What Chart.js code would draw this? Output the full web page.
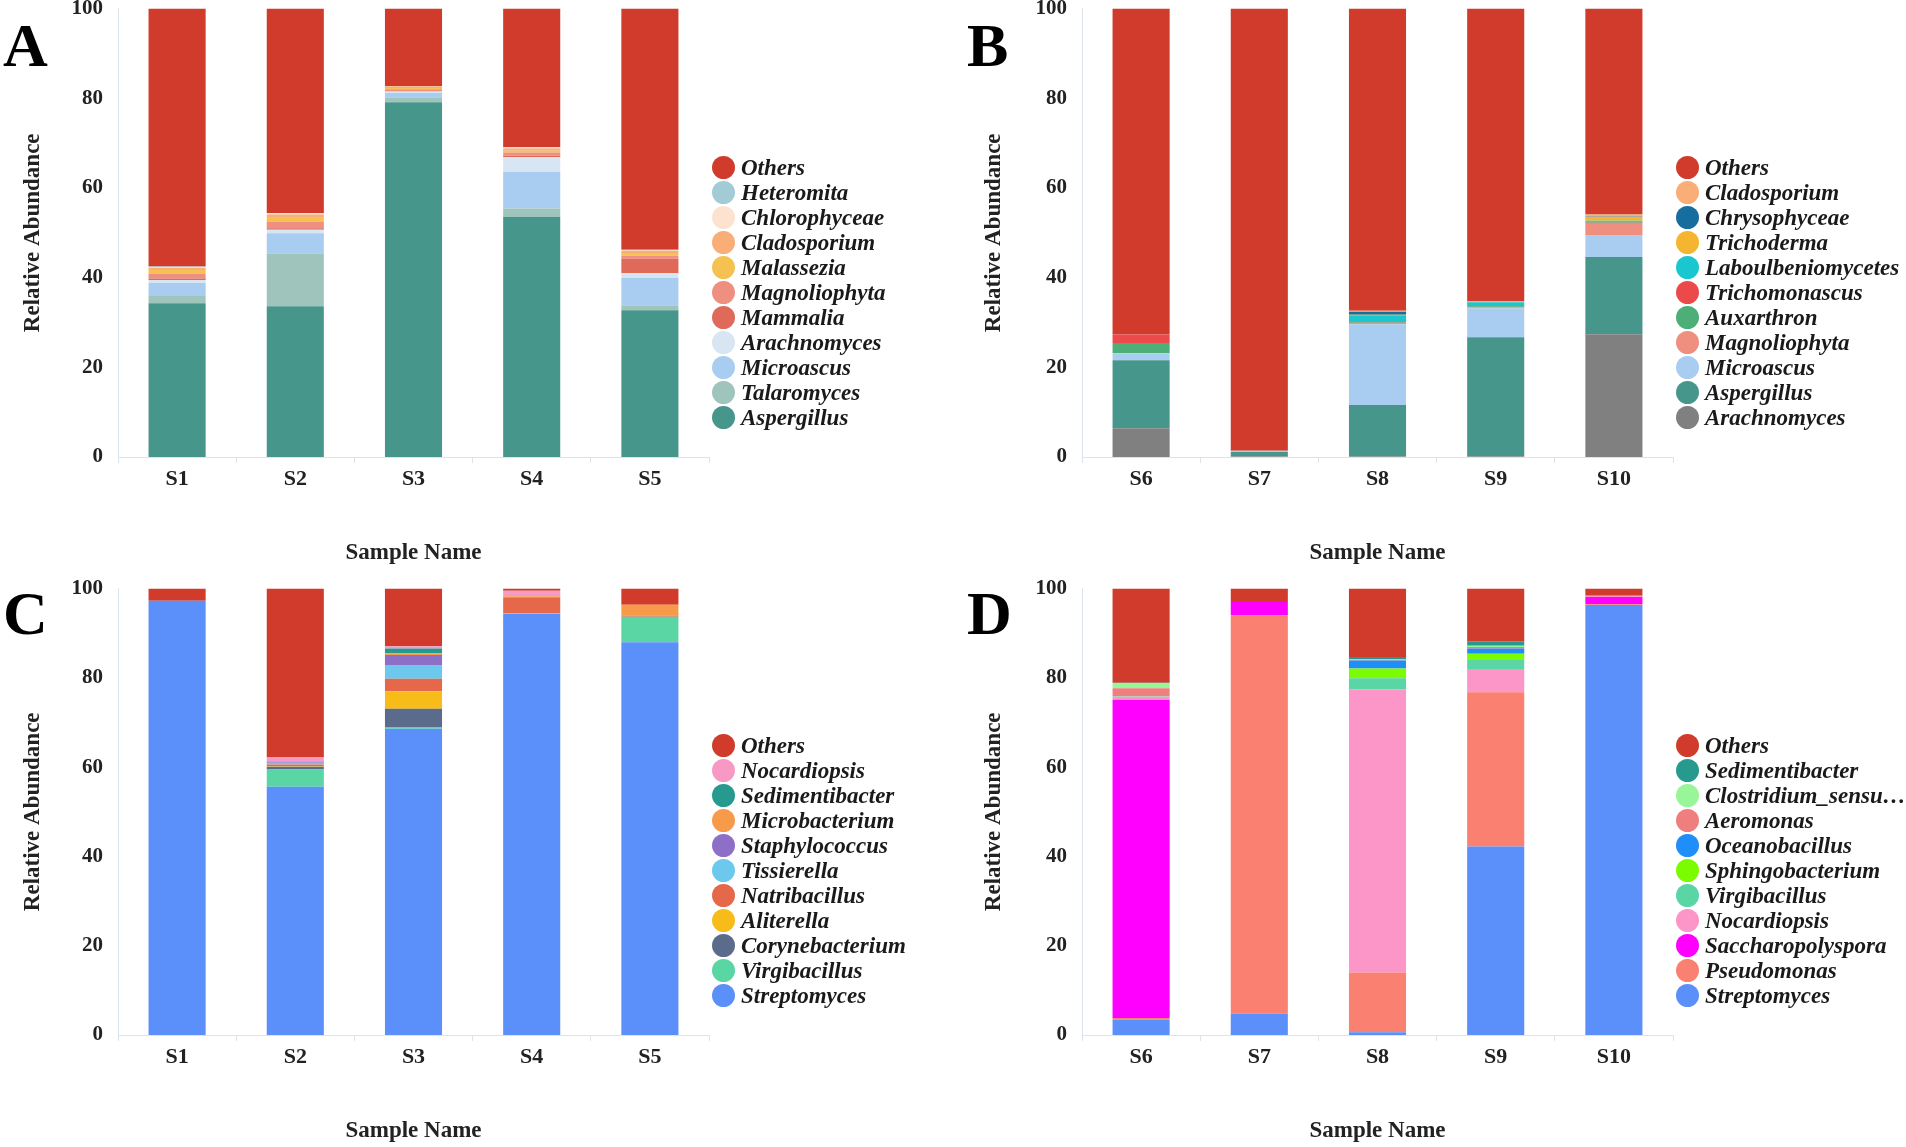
<!DOCTYPE html>
<html><head><meta charset="utf-8">
<script src="https://cdn.jsdelivr.net/npm/chart.js@4.4.1/dist/chart.umd.min.js"></script>
<style>
html,body{margin:0;padding:0;background:#fff;overflow:hidden;}
#stage{position:relative;width:1906px;height:1147px;overflow:hidden;}
canvas{position:absolute;}
.letter{position:absolute;font:bold 62px "Liberation Serif",serif;color:#000;line-height:1;}
.legend{position:absolute;}
.row{height:25px;display:flex;align-items:center;white-space:nowrap;}
.dot{width:23px;height:23px;border-radius:50%;margin-right:6px;flex:none;}
.row span{font:italic bold 23px "Liberation Serif",serif;color:#1a1a1a;}
</style></head>
<body>
<div id="stage">
  <canvas id="cA"></canvas><canvas id="cB"></canvas><canvas id="cC"></canvas><canvas id="cD"></canvas>
  <div class="letter" style="left:3px;top:14px">A</div>
  <div class="letter" style="left:967px;top:14px">B</div>
  <div class="letter" style="left:3px;top:582px">C</div>
  <div class="letter" style="left:967px;top:582px">D</div>
  <div class="legend" id="lA" style="left:712px;top:155px"></div>
  <div class="legend" id="lB" style="left:1676px;top:155px"></div>
  <div class="legend" id="lC" style="left:712px;top:733px"></div>
  <div class="legend" id="lD" style="left:1676px;top:733px"></div>
</div>
<script>
// ---------- categories & ticks ----------
const samplesAC = ['S1','S2','S3','S4','S5'];
const samplesBD = ['S6','S7','S8','S9','S10'];
const yTicks = [0,20,40,60,80,100];

// ---------- Panel A (stack order bottom -> top) ----------
const taxaA = ['Aspergillus','Talaromyces','Microascus','Arachnomyces','Mammalia','Magnoliophyta','Malassezia','Cladosporium','Chlorophyceae','Heteromita','Others'];
const A_Aspergillus    = [34.3, 33.6, 79.1, 53.5, 32.7];
const A_Talaromyces    = [1.6, 11.8, 1.0, 1.9, 1.1];
const A_Microascus     = [2.9, 4.5, 1.1, 8.2, 6.2];
const A_Arachnomyces   = [0.7, 0.8, 0.3, 3.3, 1.0];
const A_Mammalia       = [0.3, 0.3, 0.1, 0.3, 3.2];
const A_Magnoliophyta  = [1.1, 1.5, 0.4, 0.7, 0.7];
const A_Malassezia     = [0.8, 1.0, 0.3, 0.4, 0.6];
const A_Cladosporium   = [0.5, 0.6, 0.3, 0.5, 0.5];
const A_Chlorophyceae  = [0.2, 0.2, 0.1, 0.2, 0.1];
const A_Heteromita     = [0.1, 0.1, 0.0, 0.1, 0.1];
const A_Others         = [57.5, 45.6, 17.3, 30.9, 53.8];
const valuesA = [A_Aspergillus,A_Talaromyces,A_Microascus,A_Arachnomyces,A_Mammalia,A_Magnoliophyta,A_Malassezia,A_Cladosporium,A_Chlorophyceae,A_Heteromita,A_Others];
const colorsA = ['#46968c','#9fc4bb','#a9cdf0','#d8e6f4','#e06a5a','#ef8f7f','#f5c252','#f9ae78','#fde2cf','#a3cbd6','#d03b2b'];

// ---------- Panel B ----------
const taxaB = ['Arachnomyces','Aspergillus','Microascus','Magnoliophyta','Auxarthron','Trichomonascus','Laboulbeniomycetes','Trichoderma','Chrysophyceae','Cladosporium','Others'];
const B_Arachnomyces       = [6.4, 0.1, 0.1, 0.1, 27.4];
const B_Aspergillus        = [15.2, 1.0, 11.5, 26.6, 17.2];
const B_Microascus         = [1.5, 0.3, 18.0, 6.5, 4.9];
const B_Magnoliophyta      = [0.1, 0.0, 0.3, 0.2, 2.5];
const B_Auxarthron         = [2.2, 0.0, 0.1, 0.2, 0.3];
const B_Trichomonascus     = [1.9, 0.0, 0.1, 0.1, 0.2];
const B_Laboulbeniomycetes = [0.0, 0.0, 1.5, 0.8, 0.2];
const B_Trichoderma        = [0.0, 0.0, 0.1, 0.1, 0.9];
const B_Chrysophyceae      = [0.0, 0.0, 0.7, 0.1, 0.1];
const B_Cladosporium       = [0.0, 0.0, 0.2, 0.1, 0.4];
const B_Others             = [72.7, 98.6, 67.4, 65.2, 45.9];
const valuesB = [B_Arachnomyces,B_Aspergillus,B_Microascus,B_Magnoliophyta,B_Auxarthron,B_Trichomonascus,B_Laboulbeniomycetes,B_Trichoderma,B_Chrysophyceae,B_Cladosporium,B_Others];
const colorsB = ['#808080','#46968c','#a9cdf0','#ef8f7f','#4caf78','#ec4a4a','#1ac6cf','#f6b530','#166e9e','#f9ae78','#d03b2b'];

// ---------- Panel C ----------
const taxaC = ['Streptomyces','Virgibacillus','Corynebacterium','Aliterella','Natribacillus','Tissierella','Staphylococcus','Microbacterium','Sedimentibacter','Nocardiopsis','Others'];
const C_Streptomyces    = [97.3, 55.6, 68.6, 94.3, 88.0];
const C_Virgibacillus   = [0.0, 3.9, 0.4, 0.2, 5.7];
const C_Corynebacterium = [0.0, 0.6, 4.1, 0.0, 0.0];
const C_Aliterella      = [0.0, 0.1, 3.9, 0.0, 0.0];
const C_Natribacillus   = [0.0, 0.4, 2.8, 3.5, 0.2];
const C_Tissierella     = [0.0, 0.4, 3.1, 0.0, 0.0];
const C_Staphylococcus  = [0.0, 0.2, 2.2, 0.1, 0.0];
const C_Microbacterium  = [0.0, 0.1, 0.4, 0.2, 2.5];
const C_Sedimentibacter = [0.0, 0.1, 1.1, 0.0, 0.0];
const C_Nocardiopsis    = [0.0, 0.9, 0.5, 1.2, 0.0];
const C_Others          = [2.7, 37.7, 12.9, 0.5, 3.6];
const valuesC = [C_Streptomyces,C_Virgibacillus,C_Corynebacterium,C_Aliterella,C_Natribacillus,C_Tissierella,C_Staphylococcus,C_Microbacterium,C_Sedimentibacter,C_Nocardiopsis,C_Others];
const colorsC = ['#5b8ff9','#5ad6a4','#5a6b8c','#f7bb1a','#e5684a','#6cc8ec','#8e6fc8','#f79b4a','#279a8f','#f799c4','#d03b2b'];

// ---------- Panel D ----------
const taxaD = ['Streptomyces','Pseudomonas','Saccharopolyspora','Nocardiopsis','Virgibacillus','Sphingobacterium','Oceanobacillus','Aeromonas','Clostridium_sensu…','Sedimentibacter','Others'];
const D_Streptomyces      = [3.5, 4.8, 0.6, 42.2, 96.3];
const D_Pseudomonas       = [0.3, 89.2, 13.4, 34.6, 0.2];
const D_Saccharopolyspora = [71.3, 3.0, 0.0, 0.0, 1.6];
const D_Nocardiopsis      = [0.7, 0.0, 63.4, 5.2, 0.3];
const D_Virgibacillus     = [0.1, 0.0, 2.5, 2.2, 0.0];
const D_Sphingobacterium  = [0.0, 0.0, 2.2, 1.2, 0.0];
const D_Oceanobacillus    = [0.0, 0.0, 1.8, 1.2, 0.0];
const D_Aeromonas         = [1.8, 0.0, 0.1, 0.3, 0.0];
const D_Clostridium       = [1.1, 0.0, 0.1, 0.3, 0.0];
const D_Sedimentibacter   = [0.1, 0.0, 0.6, 1.0, 0.0];
const D_Others            = [21.1, 3.0, 15.3, 11.8, 1.6];
const valuesD = [D_Streptomyces,D_Pseudomonas,D_Saccharopolyspora,D_Nocardiopsis,D_Virgibacillus,D_Sphingobacterium,D_Oceanobacillus,D_Aeromonas,D_Clostridium,D_Sedimentibacter,D_Others];
const colorsD = ['#5b8ff9','#fa8072','#ff00ff','#fc96c8','#5ad6a4','#7cfc00','#1e8ef8','#ef7f7f','#98f598','#279a8f','#d03b2b'];

// ---------- drawing ----------
const FONT = 'Liberation Serif';
const AXIS = '#dde3ea';
function buildChart(id, left, top, height, ytp, samples, taxa, values, colors) {
  const cv = document.getElementById(id);
  cv.width = 720; cv.height = height;
  cv.style.left = left + 'px'; cv.style.top = top + 'px';
  new Chart(cv, {
    type: 'bar',
    data: {
      labels: samples,
      datasets: taxa.map((t, i) => ({
        label: t, data: values[i], backgroundColor: colors[i],
        borderWidth: 0, barPercentage: 0.483, categoryPercentage: 1
      }))
    },
    options: {
      responsive: false, animation: false, devicePixelRatio: 1,
      layout: { padding: { top: 20, right: 11, bottom: 0, left: 0 } },
      plugins: { legend: { display: false }, tooltip: { enabled: false } },
      scales: {
        x: {
          stacked: true,
          grid: { display: true, drawOnChartArea: false, drawTicks: true, tickLength: 6, color: AXIS },
          border: { display: true, color: AXIS },
          ticks: { font: { family: FONT, size: 22, weight: 'bold' }, color: '#222', padding: 3 },
          title: { display: true, text: 'Sample Name', font: { family: FONT, size: 23, weight: 'bold' }, color: '#222', padding: { top: 0, bottom: 8 } },
          afterFit(s) { s.height = 118; }
        },
        y: {
          stacked: true, min: 0, max: 100,
          afterBuildTicks(s) { s.ticks = yTicks.map(v => ({ value: v })); },
          grid: { display: false, drawTicks: false },
          border: { display: true, color: AXIS },
          ticks: { font: { family: FONT, size: 21, weight: 'bold' }, color: '#222', padding: 15 },
          title: { display: true, text: 'Relative Abundance', font: { family: FONT, size: 23, weight: 'bold' }, color: '#222', padding: { top: ytp, bottom: 0 } },
          afterFit(s) { s.width = 118; }
        }
      }
    }
  });
}
function buildLegend(id, taxa, colors) {
  const el = document.getElementById(id);
  for (let i = taxa.length - 1; i >= 0; i--) {
    const row = document.createElement('div'); row.className = 'row';
    const dot = document.createElement('div'); dot.className = 'dot'; dot.style.background = colors[i];
    const sp = document.createElement('span'); sp.textContent = taxa[i];
    row.appendChild(dot); row.appendChild(sp); el.appendChild(row);
  }
}
buildChart('cA', 0, -19, 594, 19, samplesAC, taxaA, valuesA, colorsA);
buildChart('cB', 964, -19, 594, 16, samplesBD, taxaB, valuesB, colorsB);
buildChart('cC', 0, 561, 592, 19, samplesAC, taxaC, valuesC, colorsC);
buildChart('cD', 964, 561, 592, 16, samplesBD, taxaD, valuesD, colorsD);
buildLegend('lA', taxaA, colorsA);
buildLegend('lB', taxaB, colorsB);
buildLegend('lC', taxaC, colorsC);
buildLegend('lD', taxaD, colorsD);
</script>
</body></html>
